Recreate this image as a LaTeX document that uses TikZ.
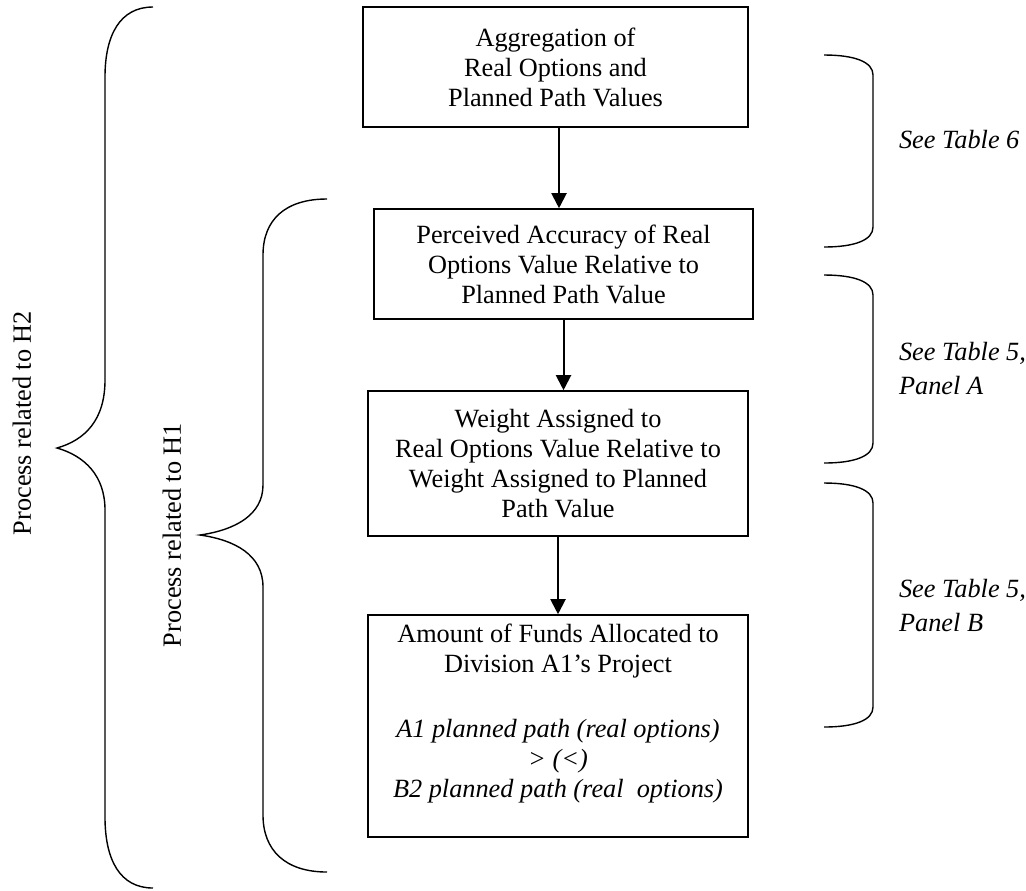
\documentclass[tikz,border=0pt]{standalone}
\usepackage{fontspec}
\setmainfont{Liberation Serif}
\usetikzlibrary{arrows.meta}

\tikzset{
  procbox/.style={draw, line width=0.8pt, align=center, inner sep=0pt},
  flow/.style={-{Triangle[width=7.5pt,length=7.5pt]}, line width=1pt},
  brace/.style={line width=0.7pt},
  note/.style={font=\fontsize{13.15}{17}\selectfont\itshape, align=left, anchor=west},
}

\begin{document}
\begin{tikzpicture}[x=0.5pt, y=-0.5pt, font=\fontsize{13.15}{15}\selectfont]
  \useasboundingbox (0,0) rectangle (1026,890);

  % the four steps
  \node[procbox, minimum width=192.5pt, minimum height=60pt] (agg) at (555.5,67)
    {Aggregation of\\Real Options and\\Planned Path Values};
  \node[procbox, minimum width=189.5pt, minimum height=55pt] (acc) at (563.5,264)
    {Perceived Accuracy of Real\\Options Value Relative to\\Planned Path Value};
  \node[procbox, minimum width=190pt, minimum height=72.5pt] (wgt) at (558,463.5)
    {Weight Assigned to\\Real Options Value Relative to\\Weight Assigned to Planned\\Path Value};
  \node[procbox, minimum width=190pt, minimum height=111pt] (fund) at (558,726)
    {Amount of Funds Allocated to\\Division A1’s Project\\[17.5pt]
     \textit{A1 planned path (real options)}\\ \textit{> (<)}\\
     \textit{B2 planned path (real~ options)}\\ \mbox{}};

  \coordinate (spine) at (559,0);
  \draw[flow] (agg.south -| spine) -- (acc.north -| spine);
  \draw[flow] (acc.south) -- (wgt.north -| acc.south);
  \draw[flow] (wgt.south) -- (fund.north);

  % braces on the left
  \draw[brace] (153,7) .. controls (120,7) and (105,35) .. (105,77) -- (105,380)
    .. controls (105,420) and (85,440) .. (57,448)
    .. controls (85,456) and (105,476) .. (105,510) -- (105,817)
    .. controls (105,860) and (120,888) .. (153,888);
  \draw[brace] (327,199) .. controls (285,199) and (263,220) .. (263,255) -- (263,485)
    .. controls (263,515) and (235,530) .. (200,535)
    .. controls (235,540) and (263,555) .. (263,587) -- (263,815)
    .. controls (263,850) and (285,872) .. (327,872);
  \node[rotate=90] (h2) at (22,423) {Process related to H2};
  \node[rotate=90] (h1) at (172,535) {Process related to H1};

  % braces on the right
  \draw[brace] (824,55) .. controls (855,55) and (873,62) .. (873,75) -- (873,227)
    .. controls (873,240) and (855,247) .. (824,247);
  \draw[brace] (824,275) .. controls (855,275) and (873,282) .. (873,295) -- (873,443)
    .. controls (873,456) and (855,463) .. (824,463);
  \draw[brace] (824,483) .. controls (855,483) and (873,490) .. (873,503) -- (873,707)
    .. controls (873,720) and (855,727) .. (824,727);
  \node[note] (tab6) at (892,140) {See Table 6};
  \node[note] (tab5a) at (892,368) {See Table 5,\\Panel A};
  \node[note] (tab5b) at (892,605) {See Table 5,\\Panel B};
\end{tikzpicture}
\end{document}
